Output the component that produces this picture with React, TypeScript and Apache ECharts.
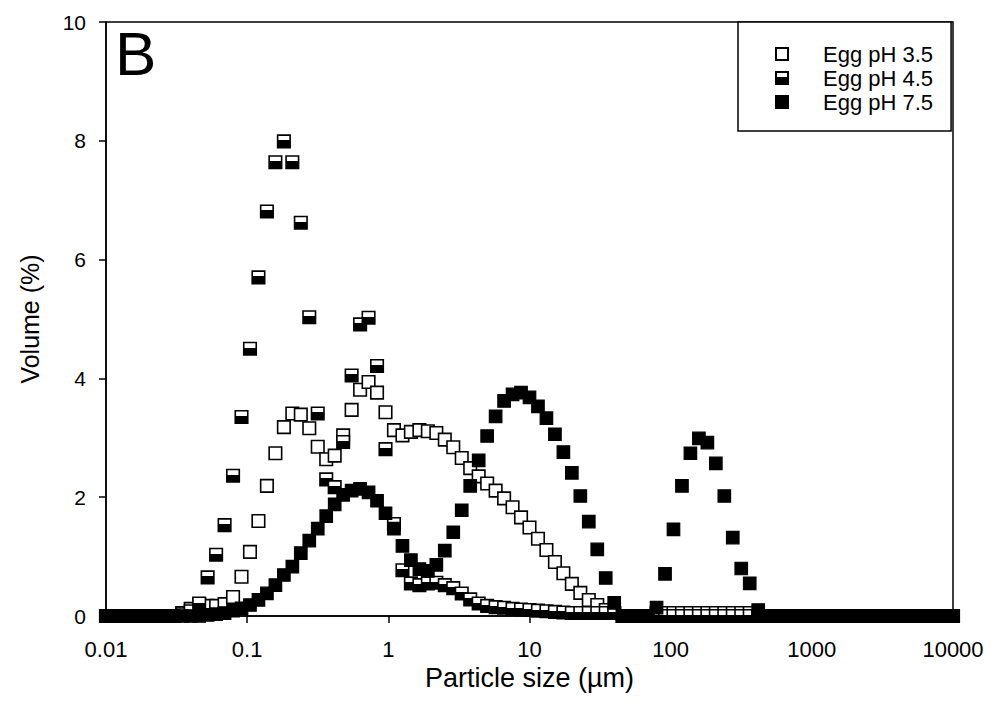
import React, { useEffect, useRef } from 'react';
import * as echarts from 'echarts';

// Particle size classes (µm)
const sizes = [
  0.01, 0.01148, 0.01318, 0.01514, 0.01738, 0.01995, 0.02291, 0.0263, 0.0302, 0.03467,
  0.03981, 0.04571, 0.05248, 0.06026, 0.06918, 0.07943, 0.0912,
  0.1047, 0.1202, 0.138, 0.1585, 0.182, 0.2089, 0.2399, 0.2754, 0.3162, 0.3631,
  0.4169, 0.4786, 0.5495, 0.631, 0.7244, 0.8318, 0.955,
  1.096, 1.259, 1.445, 1.66, 1.905, 2.188, 2.512, 2.884, 3.311, 3.802,
  4.365, 5.012, 5.754, 6.607, 7.586, 8.71, 10,
  11.48, 13.18, 15.14, 17.38, 19.95, 22.91, 26.3, 30.2, 34.67, 39.81,
  45.71, 52.48, 60.26, 69.18, 79.43, 91.2,
  104.7, 120.2, 138, 158.5, 182, 208.9, 239.9, 275.4, 316.2, 363.1,
  416.9, 478.6, 549.5, 631, 724.4, 831.8, 955,
  1096, 1259, 1445, 1660, 1905, 2188, 2512, 2884, 3311, 3802,
  4365, 5012, 5754, 6607, 7586, 8710, 10000,
];

// Volume (%) for each size class
const eggPH35 = [
  0, 0, 0, 0, 0, 0, 0, 0, 0, 0.05,
  0.12, 0.2, 0.17, 0.17, 0.2, 0.32, 0.66, 1.08, 1.6, 2.19,
  2.74, 3.18, 3.41, 3.39, 3.16, 2.85, 2.64, 2.7, 3.04, 3.47,
  3.81, 3.94, 3.76, 3.43, 3.13, 3.04, 3.1, 3.13, 3.11, 3.08,
  2.97, 2.84, 2.66, 2.49, 2.35, 2.23, 2.11, 1.98, 1.83, 1.66,
  1.49, 1.3, 1.11, 0.91, 0.72, 0.54, 0.39, 0.27, 0.185, 0.1,
  0.05, 0, 0, 0, 0, 0.05, 0.05, 0.05, 0.05, 0.05,
  0.05, 0.05, 0.05, 0.05, 0.05, 0.05, 0.05, 0, 0, 0,
  0, 0, 0, 0, 0, 0, 0, 0, 0, 0,
  0, 0, 0, 0, 0, 0, 0, 0, 0, 0,
  0,
];

const eggPH45 = [
  0, 0, 0, 0, 0, 0, 0, 0, 0, 0.03,
  0.08, 0.21, 0.65, 1.03, 1.53, 2.36, 3.35, 4.5, 5.7, 6.81,
  7.64, 7.99, 7.64, 6.62, 5.03, 3.41, 2.3, 2.17, 2.93, 4.05,
  4.91, 5.02, 4.21, 2.81, 1.55, 0.77, 0.55, 0.52, 0.55, 0.56,
  0.52, 0.47, 0.38, 0.28, 0.21, 0.17, 0.15, 0.14, 0.12, 0.11,
  0.1, 0.09, 0.08, 0.07, 0.06, 0.05, 0.05, 0.05, 0.05, 0.05,
  0.05, 0, 0, 0, 0, 0, 0, 0, 0, 0,
  0, 0, 0, 0, 0, 0, 0, 0, 0, 0,
  0, 0, 0, 0, 0, 0, 0, 0, 0, 0,
  0, 0, 0, 0, 0, 0, 0, 0, 0, 0,
  0,
];

const eggPH75 = [
  0, 0, 0, 0, 0, 0, 0, 0, 0, 0,
  0, 0, 0.02, 0.03, 0.05, 0.09, 0.13, 0.185, 0.27, 0.38,
  0.52, 0.69, 0.83, 1.06, 1.27, 1.47, 1.68, 1.88, 2.04, 2.11,
  2.14, 2.08, 1.94, 1.73, 1.47, 1.18, 0.94, 0.79, 0.76, 0.86,
  1.1, 1.41, 1.78, 2.19, 2.62, 3.03, 3.36, 3.62, 3.73, 3.76,
  3.68, 3.53, 3.33, 3.06, 2.76, 2.41, 2.02, 1.59, 1.12, 0.64,
  0.22, 0, 0, 0, 0, 0.14, 0.71, 1.46, 2.19, 2.74,
  2.99, 2.92, 2.57, 2.02, 1.32, 0.8, 0.55, 0.1, 0, 0,
  0, 0, 0, 0, 0, 0, 0, 0, 0, 0,
  0, 0, 0, 0, 0, 0, 0, 0, 0, 0,
  0,
];

const seriesNames = ['Egg pH 3.5', 'Egg pH 4.5', 'Egg pH 7.5'];
const xTickLabels = ['0.01', '0.1', '1', '10', '100', '1000', '10000'];
const yTickLabels = ['0', '2', '4', '6', '8', '10'];

const FONT = '"Liberation Sans", Arial, Helvetica, sans-serif';

export default function App() {
  const ref = useRef<HTMLDivElement>(null);

  useEffect(() => {
    document.body.style.margin = '0';
    if (!ref.current) return;
    const chart = echarts.init(ref.current, null, { renderer: 'svg' });

    const pair = (vals: number[]) => sizes.map((s, i) => [s, vals[i]]);
    const halfFill = new echarts.graphic.LinearGradient(0, 0, 0, 1, [
      { offset: 0, color: '#ffffff' },
      { offset: 0.42, color: '#ffffff' },
      { offset: 0.42, color: '#000000' },
      { offset: 1, color: '#000000' },
    ]);

    const fmt = (v: number) => {
      const s = String(+v.toPrecision(6));
      const idx = xTickLabels.indexOf(s);
      return idx >= 0 ? xTickLabels[idx] : s;
    };

    chart.setOption({
      animation: false,
      backgroundColor: '#ffffff',
      title: {
        text: 'B',
        left: 115,
        top: 22,
        padding: 0,
        textStyle: { fontSize: 62, fontWeight: 'normal', fontFamily: FONT, color: '#000' },
      },
      grid: {
        left: 106,
        right: 38,
        top: 22,
        bottom: 101,
        show: true,
        borderColor: '#000',
        borderWidth: 1.5,
        backgroundColor: 'transparent',
      },
      legend: {
        data: seriesNames,
        orient: 'vertical',
        left: 738,
        top: 22,
        padding: [20, 18, 17, 37],
        itemWidth: 12,
        itemHeight: 12,
        itemGap: 0,
        borderColor: '#000',
        borderWidth: 1.5,
        backgroundColor: '#fff',
        textStyle: {
          fontSize: 22,
          lineHeight: 24,
          fontFamily: FONT,
          color: '#000',
          padding: [0, 0, 0, 30],
        },
      },
      xAxis: {
        type: 'log',
        logBase: 10,
        min: 0.01,
        max: 10000,
        name: 'Particle size (µm)',
        nameLocation: 'middle',
        nameGap: 40,
        nameTextStyle: { fontSize: 27, fontFamily: FONT, color: '#000' },
        axisLine: { show: true, onZero: false, lineStyle: { color: '#000', width: 1.5 } },
        axisTick: { show: true, length: 7, lineStyle: { color: '#000', width: 1.5 } },
        minorTick: { show: false },
        splitLine: { show: false },
        axisLabel: { fontSize: 22, fontFamily: FONT, color: '#000', margin: 22, formatter: fmt },
      },
      yAxis: {
        type: 'value',
        min: 0,
        max: 10,
        interval: 2,
        name: 'Volume (%)',
        nameLocation: 'middle',
        nameGap: 64,
        nameTextStyle: { fontSize: 25, fontFamily: FONT, color: '#000' },
        axisLine: { show: true, lineStyle: { color: '#000', width: 1.5 } },
        axisTick: { show: true, length: 7, lineStyle: { color: '#000', width: 1.5 } },
        splitLine: { show: false },
        axisLabel: {
          fontSize: 21,
          fontFamily: FONT,
          color: '#000',
          margin: 20,
          formatter: (v: number) => yTickLabels[Math.round(v / 2)] ?? String(v),
        },
      },
      series: [
        {
          name: seriesNames[0],
          type: 'scatter',
          data: pair(eggPH35),
          symbol: 'rect',
          symbolSize: 12.5,
          clip: false,
          itemStyle: { color: '#fff', borderColor: '#000', borderWidth: 1.6, opacity: 1 },
        },
        {
          name: seriesNames[1],
          type: 'scatter',
          data: pair(eggPH45),
          symbol: 'rect',
          symbolSize: 12.5,
          clip: false,
          itemStyle: { color: halfFill, borderColor: '#000', borderWidth: 1.6, opacity: 1 },
        },
        {
          name: seriesNames[2],
          type: 'scatter',
          data: pair(eggPH75),
          symbol: 'rect',
          symbolSize: 12.5,
          clip: false,
          itemStyle: { color: '#000', borderColor: '#000', borderWidth: 1.2, opacity: 1 },
        },
      ],
    });

    return () => chart.dispose();
  }, []);

  return <div ref={ref} style={{ width: 991, height: 717 }} />;
}
